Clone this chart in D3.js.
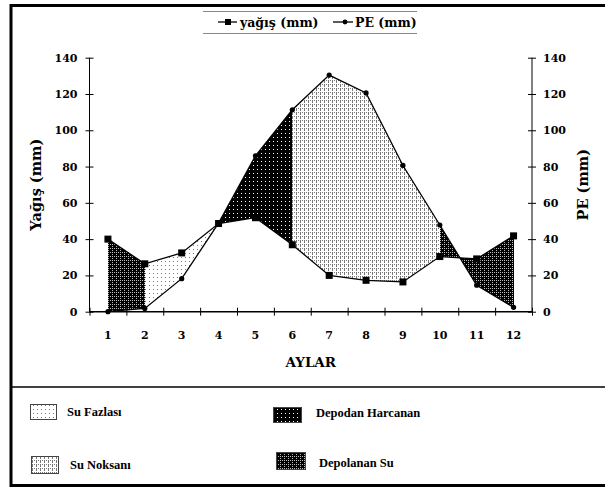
<!DOCTYPE html>
<html>
<head>
<meta charset="utf-8">
<script src="https://cdn.jsdelivr.net/npm/d3@7"></script>
<style>
  body { margin: 0; background: #fff; }
  svg { display: block; }
  .tick text { font-family: 'DejaVu Serif', serif; font-weight: bold; font-size: 11px; fill: #000; }
</style>
</head>
<body>
<svg id="chart" width="605" height="487"></svg>
<script>
// veriler
const months = ['1', '2', '3', '4', '5', '6', '7', '8', '9', '10', '11', '12']
const yagis = [40, 26.4, 32.4, 48.6, 51.8, 36.9, 20, 17.3, 16.4, 30.4, 29.1, 41.8]
const pe = [0, 1.8, 18.2, 48.8, 85.9, 111.3, 130.4, 120.6, 80.6, 47.8, 14.6, 2.4]
const yTicks = [0, 20, 40, 60, 80, 100, 120, 140]

// alan sınırları (ay indeksi, 'x' = eğrilerin kesiştiği yer)
const zoneBounds = [0, 1, 'x', 5, 9, 'x', 11]
const zoneTypes = ['depolanan', 'fazla', 'harcanan', 'noksan', 'depolanan', 'depolanan']

const legendItems = [
  { key: 'fazla', label: 'Su Fazlası' },
  { key: 'harcanan', label: 'Depodan Harcanan' },
  { key: 'noksan', label: 'Su Noksanı' },
  { key: 'depolanan', label: 'Depolanan Su' },
]

const svg = d3.select('#chart')
const pLeft = 89.5, pRight = 532, pTop = 57.7, pBottom = 311.7

const xBand = d3.scaleBand().domain(months).range([pLeft, pRight])
const xEdge = d3.scaleLinear().domain([0, 12]).range([pLeft, pRight])
const xPos = i => xEdge(i + 0.5)
const y = d3.scaleLinear().domain([0, 140]).range([pBottom, pTop])

// desenler
const defs = svg.append('defs')
function pattern(id, w, h, bg, fg, dots) {
  const p = defs.append('pattern').attr('id', id).attr('patternUnits', 'userSpaceOnUse')
    .attr('width', w).attr('height', h)
  p.append('rect').attr('width', w).attr('height', h).attr('fill', bg)
  dots.forEach(([dx, dy]) => p.append('rect').attr('x', dx).attr('y', dy).attr('width', 1).attr('height', 1).attr('fill', fg))
}
pattern('fazla', 4, 4, '#fff', '#777', [[1, 1]])
pattern('noksan', 4, 4, '#fff', '#777', [[0, 0], [2, 0], [0, 2], [0, 1]])
pattern('harcanan', 4, 4, '#000', '#fff', [[1, 1]])
pattern('depolanan', 4, 4, '#000', '#bbb', [[0, 0], [2, 0], [0, 2]])

// çerçeve
svg.append('line').attr('x1', 10).attr('x2', 605).attr('y1', 5.5).attr('y2', 5.5).attr('stroke', '#000').attr('stroke-width', 3)
svg.append('line').attr('x1', 11).attr('x2', 11).attr('y1', 4).attr('y2', 487).attr('stroke', '#000').attr('stroke-width', 3)
svg.append('line').attr('x1', 10).attr('x2', 605).attr('y1', 485.5).attr('y2', 485.5).attr('stroke', '#000').attr('stroke-width', 3)
svg.append('line').attr('x1', 10).attr('x2', 605).attr('y1', 387).attr('y2', 387).attr('stroke', '#000').attr('stroke-width', 1.5)

// kesişme noktası
function crossing(from) {
  for (let i = Math.floor(from); i < months.length - 1; i++) {
    const d0 = yagis[i] - pe[i], d1 = yagis[i + 1] - pe[i + 1]
    if (d0 * d1 < 0 || (d1 === 0)) return i + d0 / (d0 - d1)
  }
  return months.length - 1
}
const valAt = (arr, t) => {
  const i = Math.min(Math.floor(t), arr.length - 2)
  return arr[i] + (arr[i + 1] - arr[i]) * (t - i)
}

const bounds = []
zoneBounds.forEach((b, k) => {
  bounds.push(b === 'x' ? crossing(bounds[k - 1] + 0.01) : b)
})

const zones = zoneTypes.map((type, k) => {
  const a = bounds[k], b = bounds[k + 1]
  const ts = [a]
  for (let i = Math.ceil(a + 1e-6); i < b; i++) ts.push(i)
  ts.push(b)
  const pts = ts.map(t => [xPos(t), y(valAt(yagis, t))])
    .concat(ts.slice().reverse().map(t => [xPos(t), y(valAt(pe, t))]))
  return { type, pts }
})

svg.append('g').selectAll('path.zone').data(zones).join('path')
  .attr('class', 'zone')
  .attr('d', d => 'M' + d.pts.map(p => p.join(',')).join('L') + 'Z')
  .attr('fill', d => `url(#${d.type})`)
  .attr('stroke', 'none')
  .attr('shape-rendering', 'crispEdges')

// eksenler
const yAxisL = svg.append('g').attr('transform', `translate(${pLeft},0)`)
  .call(d3.axisLeft(y).tickValues(yTicks).tickSize(4).tickPadding(8))
const yAxisR = svg.append('g').attr('transform', `translate(${pRight},0)`)
  .call(d3.axisRight(y).tickValues(yTicks).tickSize(4).tickPadding(8))
const xAxis = svg.append('g').attr('transform', `translate(0,${pBottom})`)
  .call(d3.axisBottom(xEdge).tickValues(d3.range(13)).tickSize(4).tickFormat(''))
const xLabels = svg.append('g').attr('transform', `translate(0,${pBottom})`)
  .call(d3.axisBottom(xBand).tickSize(0).tickPadding(20))
xLabels.select('.domain').remove()

;[yAxisL, yAxisR].forEach(g => {
  g.selectAll('.tick line').attr('x1', -4).attr('x2', 4).attr('stroke', '#000')
  g.select('.domain').attr('d', `M0,${pTop}V${pBottom}`).attr('stroke', '#000')
})
yAxisL.selectAll('.tick text').attr('x', -12)
yAxisR.selectAll('.tick text').attr('x', 11)
xAxis.selectAll('.tick line').attr('y1', -4).attr('y2', 4).attr('stroke', '#000')
xAxis.select('.domain').attr('d', `M${pLeft},0H${pRight}`).attr('stroke', '#000').attr('stroke-width', 1.5)

// çizgiler
const line = d3.line().x((d, i) => xPos(i)).y(d => y(d))
svg.append('path').attr('d', line(yagis)).attr('fill', 'none').attr('stroke', '#000').attr('stroke-width', 1.3)
svg.append('path').attr('d', line(pe)).attr('fill', 'none').attr('stroke', '#000').attr('stroke-width', 1.3)
svg.append('g').selectAll('rect').data(yagis).join('rect')
  .attr('x', (d, i) => xPos(i) - 3.5).attr('y', d => y(d) - 3.5)
  .attr('width', 7).attr('height', 7).attr('fill', '#000')
svg.append('g').selectAll('circle').data(pe).join('circle')
  .attr('cx', (d, i) => xPos(i)).attr('cy', d => y(d)).attr('r', 2.6).attr('fill', '#000')

// eksen başlıkları
const titleFont = g => g.attr('font-family', "'DejaVu Serif', serif").attr('font-weight', 'bold').attr('fill', '#000')
svg.append('text').call(titleFont).attr('font-size', 14.5)
  .attr('transform', `translate(41,${(pTop + pBottom) / 2}) rotate(-90)`)
  .attr('text-anchor', 'middle').text('Yağış (mm)')
svg.append('text').call(titleFont).attr('font-size', 14.5)
  .attr('transform', `translate(588,${(pTop + pBottom) / 2}) rotate(-90)`)
  .attr('text-anchor', 'middle').text('PE (mm)')
svg.append('text').call(titleFont).attr('font-size', 13.5)
  .attr('x', (pLeft + pRight) / 2).attr('y', 367).attr('text-anchor', 'middle').text('AYLAR')

// üst gösterge
svg.append('line').attr('x1', 203).attr('x2', 417).attr('y1', 11.5).attr('y2', 11.5).attr('stroke', '#888')
svg.append('line').attr('x1', 203).attr('x2', 417).attr('y1', 33.5).attr('y2', 33.5).attr('stroke', '#888')
const lg = svg.append('g')
lg.append('line').attr('x1', 218).attr('x2', 237).attr('y1', 22).attr('y2', 22).attr('stroke', '#000').attr('stroke-width', 1.3)
lg.append('rect').attr('x', 225).attr('y', 19).attr('width', 6).attr('height', 6).attr('fill', '#000')
lg.append('text').call(titleFont).attr('font-size', 12.5).attr('x', 240).attr('y', 27).text('yağış (mm)')
lg.append('line').attr('x1', 333).attr('x2', 353).attr('y1', 22).attr('y2', 22).attr('stroke', '#000').attr('stroke-width', 1.3)
lg.append('circle').attr('cx', 345).attr('cy', 22).attr('r', 2.4).attr('fill', '#000')
lg.append('text').call(titleFont).attr('font-size', 12.5).attr('x', 355).attr('y', 27).text('PE (mm)')

// alt gösterge
const legendPos = [
  { bx: 30, by: 404, bw: 26, bh: 15, tx: 67, ty: 416 },
  { bx: 273, by: 407, bw: 28, bh: 15, tx: 316, ty: 417 },
  { bx: 31, by: 456, bw: 27, bh: 17, tx: 70, ty: 469 },
  { bx: 276, by: 452, bw: 29, bh: 17, tx: 319, ty: 467 },
]
const items = svg.append('g').selectAll('g').data(legendItems).join('g')
items.append('rect')
  .attr('x', (d, i) => legendPos[i].bx + 0.5).attr('y', (d, i) => legendPos[i].by + 0.5)
  .attr('width', (d, i) => legendPos[i].bw).attr('height', (d, i) => legendPos[i].bh)
  .attr('fill', d => `url(#${d.key})`).attr('stroke', '#444').attr('stroke-width', 1)
items.append('text')
  .attr('x', (d, i) => legendPos[i].tx).attr('y', (d, i) => legendPos[i].ty)
  .attr('font-family', "'Liberation Serif', serif").attr('font-weight', 'bold').attr('font-size', 12.5)
  .attr('fill', '#000').text(d => d.label)
</script>
</body>
</html>
